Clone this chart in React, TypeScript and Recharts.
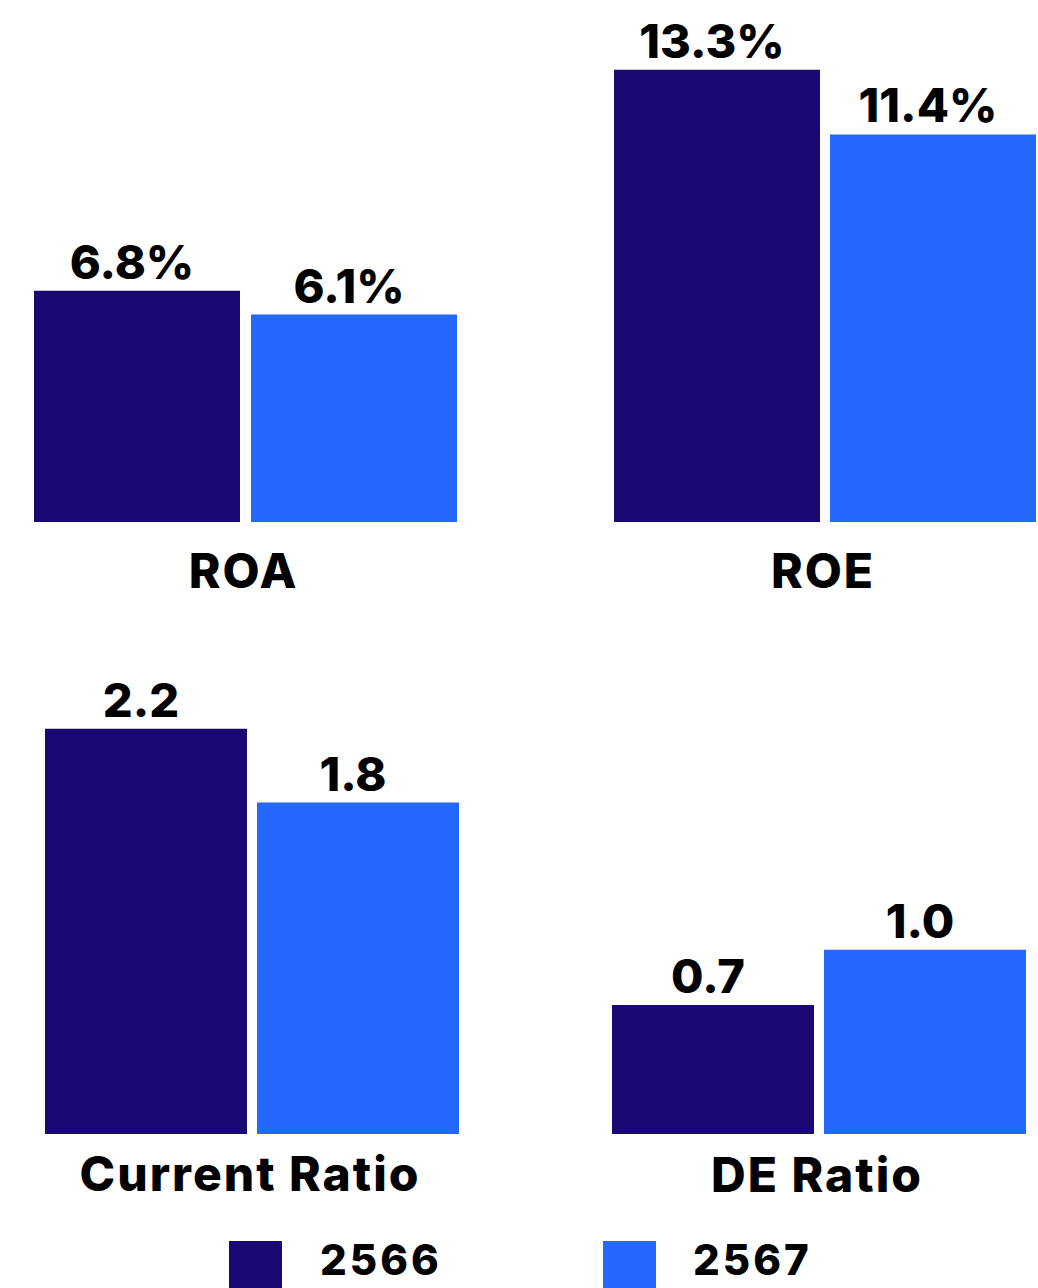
import React from 'react';
import { BarChart, Bar, XAxis, YAxis, LabelList } from 'recharts';

// series (Thai Buddhist years)
const years = ['2566', '2567'];
const seriesColors = ['#1C0872', '#2468FF'];

// metric values per year
const roaValues = [6.8, 6.1];
const roeValues = [13.3, 11.4];
const currentRatioValues = [2.2, 1.8];
const deRatioValues = [0.7, 1.0];

const FONT = 'Inter, "Noto Sans", sans-serif';

const toRow = (name: string, values: number[]) => {
  const row: Record<string, string | number> = { name };
  years.forEach((y, i) => {
    row[`y${y}`] = values[i];
  });
  return [row];
};

interface Panel {
  name: string;
  values: number[];
  suffix: string;
  left: number;
  top: number;
  width: number;
  height: number;
  marginTop: number;
  marginBottom: number;
  yMax: number;
  barSize: number;
  barGap: number;
  tickDy: number;
}

const panels: Panel[] = [
  { name: 'ROA', values: roaValues, suffix: '%', left: 0, top: 0, width: 491, height: 612, marginTop: 46, marginBottom: 10, yMax: 14, barSize: 206, barGap: 11, tickDy: 66 },
  { name: 'ROE', values: roeValues, suffix: '%', left: 613, top: 0, width: 424, height: 612, marginTop: 46, marginBottom: 10, yMax: 14, barSize: 206, barGap: 10, tickDy: 66 },
  { name: 'Current Ratio', values: currentRatioValues, suffix: '', left: 0, top: 620, width: 504, height: 594, marginTop: 72, marginBottom: 0, yMax: 2.4, barSize: 202, barGap: 10, tickDy: 57 },
  { name: 'DE Ratio', values: deRatioValues, suffix: '', left: 607, top: 620, width: 424, height: 594, marginTop: 72, marginBottom: 0, yMax: 2.4, barSize: 202, barGap: 10, tickDy: 58 },
];

const categoryStyle = {
  fontFamily: FONT,
  fontWeight: 800,
  fontSize: 48,
  letterSpacing: 2,
  fill: '#000',
};

const valueStyle = {
  fontFamily: FONT,
  fontWeight: 800,
  fontSize: 47,
  letterSpacing: 0,
  fill: '#000',
};

const CategoryTick = ({ x, y, payload, dy }: any) => (
  <text x={x - 2} y={y + dy} textAnchor="middle" {...categoryStyle}>
    {payload.value}
  </text>
);

const ValueLabel = (props: any, suffix: string) => {
  const vb = props.viewBox || props;
  const x = vb.x ?? props.x;
  const y = vb.y ?? props.y;
  const w = vb.width ?? props.width;
  const v = Number(props.value);
  return (
    <text x={x + w / 2 - 5} y={y - 12} textAnchor="middle" {...valueStyle}>
      {v.toFixed(1) + suffix}
    </text>
  );
};

const MetricChart = ({ panel }: { panel: Panel }) => (
  <div style={{ position: 'absolute', left: panel.left, top: panel.top }}>
    <BarChart
      width={panel.width}
      height={panel.height}
      data={toRow(panel.name, panel.values)}
      margin={{ top: panel.marginTop, right: 0, bottom: panel.marginBottom, left: 0 }}
      barGap={panel.barGap}
    >
      <XAxis
        dataKey="name"
        axisLine={false}
        tickLine={false}
        tickSize={0}
        tickMargin={0}
        height={80}
        interval={0}
        tick={(p: any) => <CategoryTick {...p} dy={panel.tickDy} />}
      />
      <YAxis hide domain={[0, panel.yMax]} allowDataOverflow />
      {years.map((y, i) => (
        <Bar
          key={y}
          dataKey={`y${y}`}
          fill={seriesColors[i]}
          barSize={panel.barSize}
          isAnimationActive={false}
        >
          <LabelList dataKey={`y${y}`} content={(p: any) => ValueLabel(p, panel.suffix)} />
        </Bar>
      ))}
    </BarChart>
  </div>
);

// legend layout (x of swatch and text for each series)
const legendSwatchX = [229, 603];
const legendTextX = [320, 693];

const YearLegend = () => (
  <svg
    width={1038}
    height={58}
    style={{ position: 'absolute', left: 0, top: 1230 }}
  >
    {years.map((y, i) => (
      <g key={y}>
        <rect x={legendSwatchX[i]} y={11} width={53} height={47} fill={seriesColors[i]} />
        <text
          x={legendTextX[i]}
          y={45}
          fontFamily={FONT}
          fontWeight={800}
          fontSize={42}
          letterSpacing={3}
          fill="#000"
        >
          {y}
        </text>
      </g>
    ))}
  </svg>
);

export default function App() {
  return (
    <div
      style={{
        position: 'absolute',
        left: 0,
        top: 0,
        width: 1038,
        height: 1288,
        overflow: 'hidden',
        background: '#fff',
      }}
    >
      {panels.map((p) => (
        <MetricChart key={p.name} panel={p} />
      ))}
      <YearLegend />
    </div>
  );
}
